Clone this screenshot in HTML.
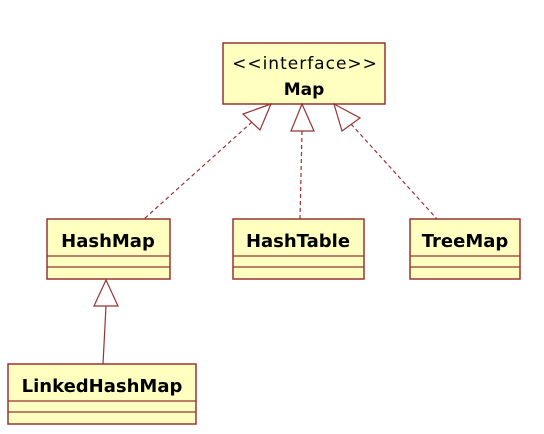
<!DOCTYPE html>
<html><head><style>body{margin:0;background:#fff}</style></head><body>
<svg width="544" height="434" xmlns="http://www.w3.org/2000/svg" style="display:block">
<g fill="#ffffc0" stroke="#983333" stroke-width="1.5">
<rect x="223" y="43" width="162" height="61"/>
<rect x="47" y="219" width="123" height="60"/>
<rect x="233" y="219" width="131" height="60"/>
<rect x="410" y="219" width="110" height="60"/>
<rect x="8" y="364" width="188" height="60"/>
</g>
<g stroke="#983333" stroke-width="1.2">
<line x1="47" y1="256" x2="170" y2="256"/><line x1="47" y1="267" x2="170" y2="267"/>
<line x1="233" y1="256" x2="364" y2="256"/><line x1="233" y1="267" x2="364" y2="267"/>
<line x1="410" y1="256" x2="520" y2="256"/><line x1="410" y1="267" x2="520" y2="267"/>
<line x1="8" y1="401" x2="196" y2="401"/><line x1="8" y1="412" x2="196" y2="412"/>
</g>
<g stroke="#983333" stroke-width="1.2" fill="none" stroke-dasharray="4,3">
<line x1="252" y1="122" x2="144" y2="219"/>
<line x1="302" y1="131" x2="300" y2="219"/>
<line x1="351" y1="124" x2="437" y2="219"/>
</g>
<g stroke="#983333" stroke-width="1.2" fill="#fff">
<polygon points="271,104 243,114 260,130"/>
<polygon points="302,104 291,131 314,131"/>
<polygon points="334,104 360,118 342,131"/>
<polygon points="106,280 94,306 118,306"/>
</g>
<line x1="106" y1="306" x2="103" y2="364" stroke="#983333" stroke-width="1.2"/>
<g font-family="DejaVu Sans, sans-serif" font-size="18" fill="#000" text-anchor="middle">
<text x="305" y="69" font-size="17" letter-spacing="1">&lt;&lt;interface&gt;&gt;</text>
<text x="304" y="95" font-weight="bold" font-size="17">Map</text>
<text x="108" y="247" font-weight="bold">HashMap</text>
<text x="298" y="247" font-weight="bold">HashTable</text>
<text x="465" y="247" font-weight="bold">TreeMap</text>
<text x="102" y="392" font-weight="bold">LinkedHashMap</text>
</g>
</svg>
</body></html>
